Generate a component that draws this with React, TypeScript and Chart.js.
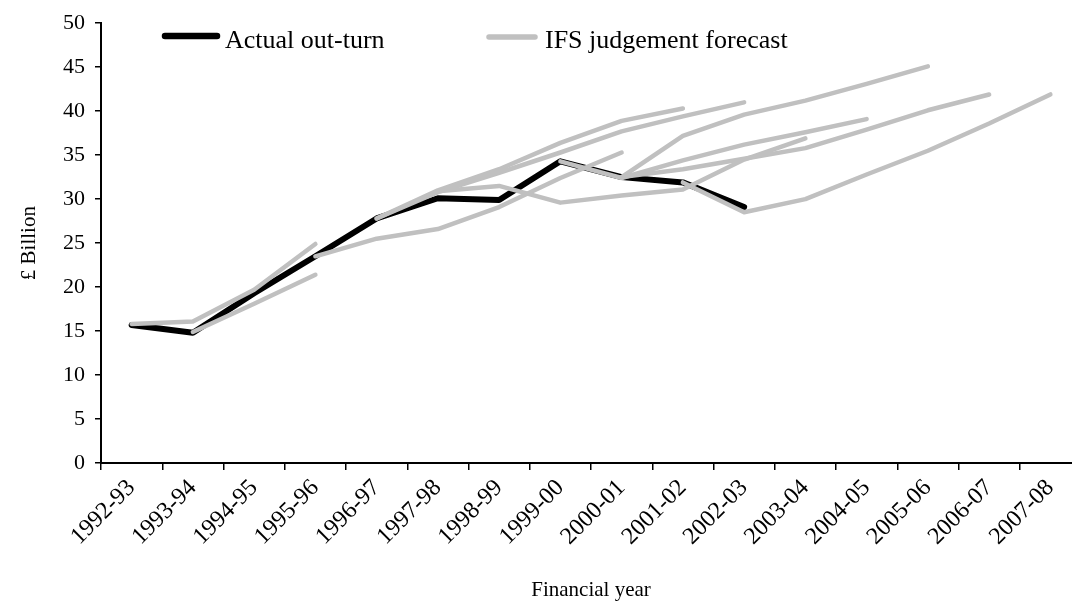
import React, { useEffect, useRef } from "react";
import { Chart, registerables } from "chart.js";

Chart.register(...registerables);

const categories = [
  "1992-93", "1993-94", "1994-95", "1995-96", "1996-97", "1997-98", "1998-99", "1999-00",
  "2000-01", "2001-02", "2002-03", "2003-04", "2004-05", "2005-06", "2006-07", "2007-08",
];

const yTickValues = [0, 5, 10, 15, 20, 25, 30, 35, 40, 45, 50];

const actualOutturn = [15.7, 14.8, 19.3, 23.5, 27.8, 30.1, 29.9, 34.3, 32.5, 31.9, 29.1, null, null, null, null, null];

const forecastA = [15.8, 16.1, 19.7, 24.9, null, null, null, null, null, null, null, null, null, null, null, null];
const forecastB = [null, 14.9, 18.1, 21.4, null, null, null, null, null, null, null, null, null, null, null, null];
const forecastC = [null, null, null, 23.5, 25.5, 26.6, 29.1, 32.4, 35.3, null, null, null, null, null, null, null];
const forecastD = [null, null, null, null, 27.8, 31.0, 33.4, 36.4, 38.9, 40.3, null, null, null, null, null, null];
const forecastE = [null, null, null, null, 27.8, 30.8, 33.0, 35.3, 37.7, 39.4, 41.0, null, null, null, null, null];
const forecastF = [null, null, null, null, null, 30.9, 31.5, 29.6, 30.4, 31.1, 34.5, 36.9, null, null, null, null];
const forecastG = [null, null, null, null, null, null, null, 34.3, 32.4, 34.4, 36.2, 37.6, 39.1, null, null, null];
const forecastH = [null, null, null, null, null, null, null, null, 32.5, 37.2, 39.6, 41.2, 43.1, 45.1, null, null];
const forecastI = [null, null, null, null, null, null, null, null, 32.5, 33.4, 34.6, 35.8, 37.9, 40.1, 41.9, null];
const forecastJ = [null, null, null, null, null, null, null, null, null, 31.9, 28.5, 30.0, 32.8, 35.5, 38.6, 41.9];

const forecastSeries = [forecastA, forecastB, forecastC, forecastD, forecastE, forecastF, forecastG, forecastH, forecastI, forecastJ];

const legendLabels = ["Actual out-turn", "IFS judgement forecast"];
const yAxisTitle = "£ Billion";
const xAxisTitle = "Financial year";

const FONT = "'Liberation Serif', 'Times New Roman', serif";
const GREY = "#c0c0c0";

const legendPlugin = {
  id: "ifsLegend",
  afterDraw(chart: any) {
    const ctx = chart.ctx;
    ctx.save();
    ctx.lineCap = "round";
    ctx.strokeStyle = "#000";
    ctx.lineWidth = 6.5;
    ctx.beginPath();
    ctx.moveTo(165, 36);
    ctx.lineTo(217, 36);
    ctx.stroke();
    ctx.strokeStyle = GREY;
    ctx.lineWidth = 5.5;
    ctx.beginPath();
    ctx.moveTo(489, 37);
    ctx.lineTo(535, 37);
    ctx.stroke();
    ctx.fillStyle = "#000";
    ctx.font = `26px ${FONT}`;
    ctx.textBaseline = "alphabetic";
    ctx.textAlign = "left";
    ctx.fillText(legendLabels[0], 225, 48);
    ctx.fillText(legendLabels[1], 545, 48);
    ctx.restore();
  },
};

export default function App() {
  const canvasRef = useRef<HTMLCanvasElement | null>(null);

  useEffect(() => {
    if (!canvasRef.current) return;
    const datasets: any[] = [
      {
        label: legendLabels[0],
        data: actualOutturn,
        borderColor: "#000",
        backgroundColor: "#000",
        borderWidth: 6,
        pointRadius: 0,
        borderCapStyle: "round",
        borderJoinStyle: "round",
        fill: false,
        order: 1,
      },
      ...forecastSeries.map((s) => ({
        label: legendLabels[1],
        data: s,
        borderColor: GREY,
        backgroundColor: GREY,
        borderWidth: 4.5,
        pointRadius: 0,
        borderCapStyle: "round",
        borderJoinStyle: "round",
        fill: false,
        order: 0,
      })),
    ];

    const chart = new Chart(canvasRef.current, {
      type: "line",
      data: { labels: categories, datasets },
      options: {
        responsive: false,
        animation: false,
        events: [],
        layout: { padding: { top: 23, right: 9, left: 0, bottom: 0 } },
        plugins: {
          legend: { display: false },
          tooltip: { enabled: false },
        },
        scales: {
          x: {
            type: "category",
            offset: true,
            grid: {
              display: true,
              drawOnChartArea: false,
              drawTicks: true,
              tickLength: 7,
              color: "#000",
              lineWidth: 1.5,
              offset: true,
            },
            border: { display: true, color: "#000", width: 2 },
            ticks: {
              autoSkip: false,
              minRotation: 45,
              maxRotation: 45,
              color: "#000",
              padding: 4,
              font: { family: FONT, size: 24 },
            },
            title: {
              display: true,
              text: xAxisTitle,
              color: "#000",
              font: { family: FONT, size: 21 },
              padding: { top: 0, bottom: 1 },
            },
            afterFit(scale: any) {
              scale.height = 141;
            },
          },
          y: {
            min: 0,
            max: 50,
            afterBuildTicks(scale: any) {
              scale.ticks = yTickValues.map((v) => ({ value: v }));
            },
            grid: {
              display: true,
              drawOnChartArea: false,
              drawTicks: true,
              tickLength: 6,
              color: "#000",
              lineWidth: 1.5,
            },
            border: { display: true, color: "#000", width: 2 },
            ticks: {
              color: "#000",
              padding: 10,
              font: { family: FONT, size: 22 },
            },
            title: {
              display: true,
              text: yAxisTitle,
              color: "#000",
              font: { family: FONT, size: 21 },
              padding: { top: 17, bottom: 0 },
            },
            afterFit(scale: any) {
              scale.width = 101;
            },
          },
        },
      },
      plugins: [legendPlugin],
    } as any);

    return () => chart.destroy();
  }, []);

  return (
    <div style={{ position: "absolute", left: 0, top: 0, width: 1072, height: 604, overflow: "hidden", background: "#fff" }}>
      <canvas ref={canvasRef} width={1090} height={604} style={{ display: "block", width: 1090, height: 604 }} />
    </div>
  );
}
